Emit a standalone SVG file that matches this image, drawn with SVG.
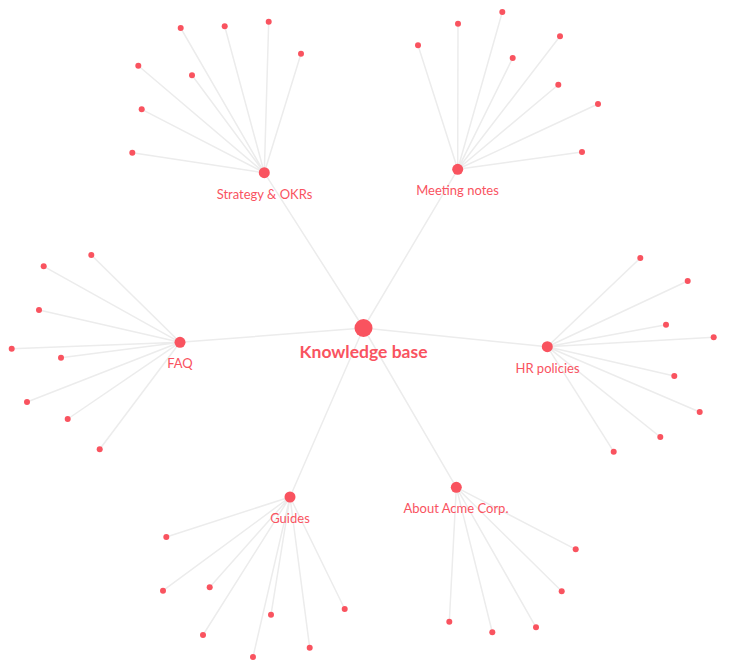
<svg xmlns="http://www.w3.org/2000/svg" width="730" height="672" viewBox="0 0 730 672">
<style>
.e{stroke:#ececec;stroke-width:1.5;fill:none}
.d{fill:#f9535f}
.t{font-family:Lato,"Noto Sans",sans-serif;font-size:13px;fill:#f9535f;text-anchor:middle}
.c{font-family:Lato,"Noto Sans",sans-serif;font-size:17.5px;font-weight:bold;fill:#f9535f;text-anchor:middle}
</style>
<rect width="730" height="672" fill="#fff"/>
<g id="connectors">
<path class="e" d="M363.5 328L264.3 172.7M363.5 328L457.7 169.3M363.5 328L180 342.3M363.5 328L547.3 346.7M363.5 328L290 497M363.5 328L456.3 487.3"/>
<path class="e" d="M264.3 172.7L180.7 28M264.3 172.7L224.7 26.3M264.3 172.7L268.7 21.7M264.3 172.7L301 53.7M264.3 172.7L138.3 65.7M264.3 172.7L192 75.3M264.3 172.7L141.7 109.3M264.3 172.7L132.3 152.7"/>
<path class="e" d="M457.7 169.3L418 45.3M457.7 169.3L458 23.7M457.7 169.3L502.3 12M457.7 169.3L560 36.3M457.7 169.3L512.7 58M457.7 169.3L558.3 84.7M457.7 169.3L598 104M457.7 169.3L582 152"/>
<path class="e" d="M180 342.3L91.3 255M180 342.3L43.7 266.3M180 342.3L39 310M180 342.3L11.7 348.7M180 342.3L61 357.7M180 342.3L27 402M180 342.3L67.7 419M180 342.3L99.7 449.3"/>
<path class="e" d="M547.3 346.7L640.3 258M547.3 346.7L687.7 281M547.3 346.7L666 324.7M547.3 346.7L713.7 337.3M547.3 346.7L674.3 376M547.3 346.7L699.7 412M547.3 346.7L660.3 437M547.3 346.7L613.7 451.7"/>
<path class="e" d="M290 497L166.3 537M290 497L163 590.7M290 497L209.7 587.3M290 497L203 635M290 497L271 614.7M290 497L253 657M290 497L309.7 647.7M290 497L344.7 609"/>
<path class="e" d="M456.3 487.3L575.7 549.3M456.3 487.3L561.7 591.3M456.3 487.3L449.3 621.7M456.3 487.3L492.3 632.3M456.3 487.3L536 627.3"/>
</g>
<g id="leaves">
<circle class="d" cx="180.7" cy="28" r="3"/><circle class="d" cx="224.7" cy="26.3" r="3"/><circle class="d" cx="268.7" cy="21.7" r="3"/><circle class="d" cx="301" cy="53.7" r="3"/><circle class="d" cx="138.3" cy="65.7" r="3"/><circle class="d" cx="192" cy="75.3" r="3"/><circle class="d" cx="141.7" cy="109.3" r="3"/><circle class="d" cx="132.3" cy="152.7" r="3"/>
<circle class="d" cx="418" cy="45.3" r="3"/><circle class="d" cx="458" cy="23.7" r="3"/><circle class="d" cx="502.3" cy="12" r="3"/><circle class="d" cx="560" cy="36.3" r="3"/><circle class="d" cx="512.7" cy="58" r="3"/><circle class="d" cx="558.3" cy="84.7" r="3"/><circle class="d" cx="598" cy="104" r="3"/><circle class="d" cx="582" cy="152" r="3"/>
<circle class="d" cx="91.3" cy="255" r="3"/><circle class="d" cx="43.7" cy="266.3" r="3"/><circle class="d" cx="39" cy="310" r="3"/><circle class="d" cx="11.7" cy="348.7" r="3"/><circle class="d" cx="61" cy="357.7" r="3"/><circle class="d" cx="27" cy="402" r="3"/><circle class="d" cx="67.7" cy="419" r="3"/><circle class="d" cx="99.7" cy="449.3" r="3"/>
<circle class="d" cx="640.3" cy="258" r="3"/><circle class="d" cx="687.7" cy="281" r="3"/><circle class="d" cx="666" cy="324.7" r="3"/><circle class="d" cx="713.7" cy="337.3" r="3"/><circle class="d" cx="674.3" cy="376" r="3"/><circle class="d" cx="699.7" cy="412" r="3"/><circle class="d" cx="660.3" cy="437" r="3"/><circle class="d" cx="613.7" cy="451.7" r="3"/>
<circle class="d" cx="166.3" cy="537" r="3"/><circle class="d" cx="163" cy="590.7" r="3"/><circle class="d" cx="209.7" cy="587.3" r="3"/><circle class="d" cx="203" cy="635" r="3"/><circle class="d" cx="271" cy="614.7" r="3"/><circle class="d" cx="253" cy="657" r="3"/><circle class="d" cx="309.7" cy="647.7" r="3"/><circle class="d" cx="344.7" cy="609" r="3"/>
<circle class="d" cx="575.7" cy="549.3" r="3"/><circle class="d" cx="561.7" cy="591.3" r="3"/><circle class="d" cx="449.3" cy="621.7" r="3"/><circle class="d" cx="492.3" cy="632.3" r="3"/><circle class="d" cx="536" cy="627.3" r="3"/>
</g>
<g id="node-strategy"><circle class="d" cx="264.3" cy="172.7" r="5.5"/><text class="t" x="264.5" y="198.5">Strategy &amp; OKRs</text></g>
<g id="node-meeting"><circle class="d" cx="457.7" cy="169.3" r="5.5"/><text class="t" x="457.5" y="195">Meeting notes</text></g>
<g id="node-faq"><circle class="d" cx="180" cy="342.3" r="5.5"/><text class="t" x="180" y="368">FAQ</text></g>
<g id="node-hr"><circle class="d" cx="547.3" cy="346.7" r="5.5"/><text class="t" x="547.5" y="372.5">HR policies</text></g>
<g id="node-guides"><circle class="d" cx="290" cy="497" r="5.5"/><text class="t" x="290" y="523">Guides</text></g>
<g id="node-about"><circle class="d" cx="456.3" cy="487.3" r="5.5"/><text class="t" x="456" y="513">About Acme Corp.</text></g>
<g id="node-kb"><circle class="d" cx="363.5" cy="328" r="9"/><text class="c" x="363.5" y="357.5">Knowledge base</text></g>
</svg>
